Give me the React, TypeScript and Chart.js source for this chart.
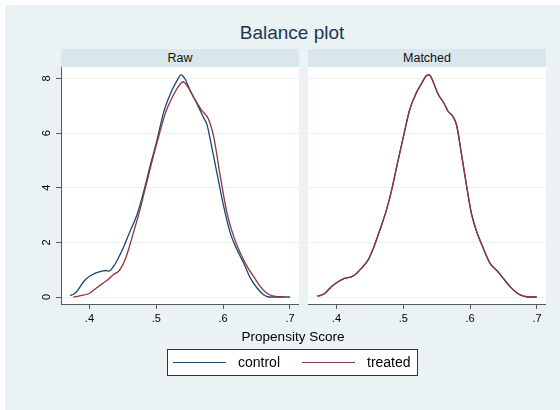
import React, { useEffect, useRef } from "react";
import { Chart, registerables } from "chart.js";

Chart.register(...registerables);

// ---------- data ----------
const chartTitle = "Balance plot";
const panelTitles = ["Raw", "Matched"];
const seriesNames = ["control", "treated"];
const xAxisTitle = "Propensity Score";

const xTickValues = [0.4, 0.5, 0.6, 0.7];
const xTickLabels = [".4", ".5", ".6", ".7"];
const yTickValues = [0, 2, 4, 6, 8];
const yTickLabels = ["0", "2", "4", "6", "8"];

const rawControlX = [0.371, 0.376, 0.381, 0.386, 0.391, 0.396, 0.401, 0.406, 0.411, 0.416, 0.421, 0.425, 0.429, 0.436, 0.441, 0.451, 0.461, 0.471, 0.481, 0.491, 0.501, 0.511, 0.521, 0.531, 0.537, 0.543, 0.551, 0.561, 0.571, 0.576, 0.581, 0.591, 0.601, 0.611, 0.621, 0.631, 0.641, 0.651, 0.661, 0.668, 0.7];
const rawControlY = [0.05, 0.1, 0.2, 0.37, 0.55, 0.68, 0.77, 0.84, 0.89, 0.93, 0.96, 0.97, 0.95, 1.12, 1.32, 1.82, 2.42, 3.0, 3.84, 4.82, 5.73, 6.76, 7.43, 7.92, 8.13, 7.98, 7.55, 7.07, 6.55, 6.3, 5.73, 4.51, 3.3, 2.32, 1.72, 1.23, 0.68, 0.32, 0.07, 0.0, 0.0];

const rawTreatedX = [0.376, 0.387, 0.399, 0.409, 0.419, 0.429, 0.436, 0.445, 0.454, 0.464, 0.474, 0.484, 0.494, 0.504, 0.514, 0.524, 0.534, 0.54, 0.546, 0.556, 0.568, 0.578, 0.586, 0.596, 0.606, 0.616, 0.626, 0.636, 0.646, 0.656, 0.666, 0.676, 0.686, 0.69];
const rawTreatedY = [0.0, 0.05, 0.12, 0.3, 0.48, 0.66, 0.82, 0.98, 1.4, 2.2, 3.05, 4.02, 5.0, 5.91, 6.76, 7.31, 7.74, 7.88, 7.74, 7.31, 6.83, 6.52, 5.85, 4.39, 3.05, 2.2, 1.59, 1.11, 0.74, 0.37, 0.13, 0.03, 0.0, 0.0];

const matchedControlX = [0.371, 0.382, 0.392, 0.402, 0.412, 0.422, 0.427, 0.437, 0.447, 0.455, 0.465, 0.475, 0.482, 0.49, 0.5, 0.51, 0.52, 0.527, 0.534, 0.539, 0.545, 0.552, 0.56, 0.567, 0.575, 0.58, 0.587, 0.595, 0.602, 0.61, 0.62, 0.63, 0.64, 0.65, 0.66, 0.67, 0.68, 0.69, 0.7];
const matchedControlY = [0.03, 0.12, 0.37, 0.55, 0.68, 0.74, 0.8, 1.04, 1.34, 1.77, 2.45, 3.2, 3.85, 4.75, 5.85, 6.89, 7.5, 7.8, 8.09, 8.13, 7.86, 7.43, 7.13, 6.8, 6.58, 6.27, 5.24, 4.02, 3.05, 2.38, 1.77, 1.22, 0.97, 0.67, 0.37, 0.15, 0.03, 0.0, 0.0];

const matchedTreatedX = [0.373, 0.382, 0.392, 0.402, 0.412, 0.422, 0.427, 0.437, 0.447, 0.455, 0.465, 0.475, 0.482, 0.49, 0.5, 0.51, 0.52, 0.527, 0.534, 0.539, 0.545, 0.552, 0.56, 0.567, 0.575, 0.58, 0.587, 0.595, 0.602, 0.61, 0.62, 0.63, 0.64, 0.65, 0.66, 0.67, 0.68, 0.69, 0.698];
const matchedTreatedY = [0.03, 0.12, 0.37, 0.55, 0.68, 0.74, 0.8, 1.04, 1.34, 1.77, 2.45, 3.2, 3.85, 4.75, 5.85, 6.89, 7.5, 7.8, 8.09, 8.13, 7.86, 7.43, 7.13, 6.8, 6.58, 6.27, 5.24, 4.02, 3.05, 2.38, 1.77, 1.22, 0.97, 0.67, 0.37, 0.15, 0.03, 0.0, 0.0];

// ---------- styles ----------
const FONT = '"Liberation Sans", Arial, sans-serif';
const BG = "#eaf2f3";
const STRIP = "#d9e6eb";
const CONTROL_COLOR = "#1a476f";
const TREATED_COLOR = "#90353b";
const AXIS_COLOR = "#5a5a5a";

const zip = (xs: number[], ys: number[]) => xs.map((x, i) => ({ x, y: ys[i] }));

function makeDataset(label: string, xs: number[], ys: number[], color: string, order: number) {
  return {
    label,
    data: zip(xs, ys),
    borderColor: color,
    backgroundColor: color,
    borderWidth: 1.3,
    pointRadius: 0,
    fill: false,
    order,
    cubicInterpolationMode: "monotone" as const,
  };
}

function buildChart(canvas: HTMLCanvasElement, datasets: any[], showY: boolean) {
  const yLabelPlugin = {
    id: "yLabels",
    afterDraw(chart: any) {
      if (!showY) return;
      const { ctx, chartArea } = chart;
      const y = chart.scales.y;
      ctx.save();
      ctx.font = `11px ${FONT}`;
      ctx.fillStyle = "#000";
      ctx.textAlign = "center";
      ctx.textBaseline = "middle";
      yTickValues.forEach((v, i) => {
        const py = y.getPixelForValue(v);
        ctx.save();
        ctx.translate(chartArea.left - 14, py);
        ctx.rotate(-Math.PI / 2);
        ctx.fillText(yTickLabels[i], 0, 0);
        ctx.restore();
      });
      ctx.restore();
    },
  };

  return new Chart(canvas, {
    type: "line",
    data: { datasets },
    plugins: [yLabelPlugin],
    options: {
      animation: false,
      responsive: false,
      devicePixelRatio: window.devicePixelRatio || 1,
      layout: { padding: 0 },
      plugins: { legend: { display: false }, tooltip: { enabled: false } },
      scales: {
        x: {
          type: "linear",
          min: 0.3575,
          max: 0.7135,
          afterBuildTicks: (s: any) => {
            s.ticks = xTickValues.map((v) => ({ value: v }));
          },
          ticks: {
            autoSkip: false,
            minRotation: 0,
            maxRotation: 0,
            padding: 3,
            color: "#000",
            font: { family: FONT, size: 11 },
            callback: (v: any) => {
              const i = xTickValues.findIndex((t) => Math.abs(t - Number(v)) < 1e-9);
              return i >= 0 ? xTickLabels[i] : "";
            },
          },
          grid: { drawOnChartArea: false, drawTicks: true, tickLength: 5, color: AXIS_COLOR, tickColor: AXIS_COLOR },
          border: { display: true, color: AXIS_COLOR, width: 1 },
          afterFit: (s: any) => {
            s.height = 26;
          },
        },
        y: {
          type: "linear",
          min: -0.256,
          max: 8.42,
          afterBuildTicks: (s: any) => {
            s.ticks = yTickValues.map((v) => ({ value: v }));
          },
          ticks: { display: false },
          grid: {
            drawOnChartArea: true,
            drawTicks: showY,
            tickLength: showY ? 5 : 0,
            color: BG,
            tickColor: AXIS_COLOR,
            lineWidth: 1,
          },
          border: { display: showY, color: AXIS_COLOR, width: 1 },
          afterFit: (s: any) => {
            s.width = showY ? 41 : 0;
          },
        },
      },
    },
  } as any);
}

export default function App() {
  const leftRef = useRef<HTMLCanvasElement | null>(null);
  const rightRef = useRef<HTMLCanvasElement | null>(null);

  useEffect(() => {
    if (!leftRef.current || !rightRef.current) return;
    const c1 = buildChart(
      leftRef.current,
      [
        makeDataset(seriesNames[0], rawControlX, rawControlY, CONTROL_COLOR, 2),
        makeDataset(seriesNames[1], rawTreatedX, rawTreatedY, TREATED_COLOR, 1),
      ],
      true
    );
    const c2 = buildChart(
      rightRef.current,
      [
        makeDataset(seriesNames[0], matchedControlX, matchedControlY, CONTROL_COLOR, 2),
        makeDataset(seriesNames[1], matchedTreatedX, matchedTreatedY, TREATED_COLOR, 1),
      ],
      false
    );
    return () => {
      c1.destroy();
      c2.destroy();
    };
  }, []);

  const abs = (o: React.CSSProperties): React.CSSProperties => ({ position: "absolute", ...o });

  return (
    <div style={{ position: "fixed", left: 0, top: 0, width: 560, height: 410, background: "#fff", overflow: "hidden", fontFamily: FONT }}>
      <div style={abs({ left: 5, top: 5, width: 555, height: 405, background: BG })} />
      <div style={abs({ left: 142, top: 22, width: 300, height: 22, lineHeight: "22px", textAlign: "center", fontSize: 19, color: "#1e3656" })}>
        {chartTitle}
      </div>
      <div style={abs({ left: 61, top: 49, width: 238, height: 18, lineHeight: "18px", background: STRIP, textAlign: "center", fontSize: 12.5, color: "#111" })}>
        {panelTitles[0]}
      </div>
      <div style={abs({ left: 308, top: 49, width: 238, height: 18, lineHeight: "18px", background: STRIP, textAlign: "center", fontSize: 12.5, color: "#111" })}>
        {panelTitles[1]}
      </div>
      <div style={abs({ left: 61, top: 67, width: 238, height: 237, background: "#fff" })} />
      <div style={abs({ left: 308, top: 67, width: 238, height: 237, background: "#fff" })} />
      <canvas ref={leftRef} width={279} height={263} style={abs({ left: 20, top: 67, width: 279, height: 263 })} />
      <canvas ref={rightRef} width={238} height={263} style={abs({ left: 308, top: 67, width: 238, height: 263 })} />
      <div style={abs({ left: 193, top: 328, width: 200, height: 18, lineHeight: "18px", textAlign: "center", fontSize: 13.5, color: "#000" })}>
        {xAxisTitle}
      </div>
      <div style={abs({ left: 167, top: 349, width: 251, height: 27, boxSizing: "border-box", border: "1px solid #333", background: "#fff" })}>
        <div style={abs({ left: 5, top: 12, width: 53, height: 0, borderTop: `1.4px solid ${CONTROL_COLOR}` })} />
        <div style={abs({ left: 70, top: 3, width: 50, height: 19, lineHeight: "19px", fontSize: 14, color: "#000" })}>{seriesNames[0]}</div>
        <div style={abs({ left: 134, top: 12, width: 53, height: 0, borderTop: `1.4px solid ${TREATED_COLOR}` })} />
        <div style={abs({ left: 199, top: 3, width: 50, height: 19, lineHeight: "19px", fontSize: 14, color: "#000" })}>{seriesNames[1]}</div>
      </div>
    </div>
  );
}
